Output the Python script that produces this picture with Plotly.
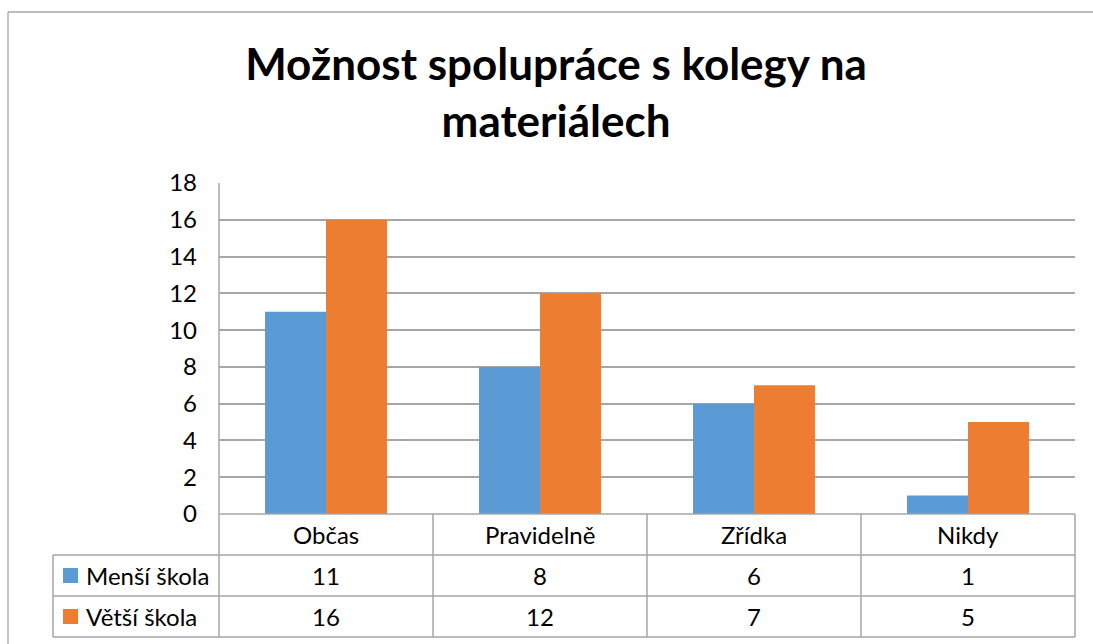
import plotly.graph_objects as go

categories = ["Občas", "Pravidelně", "Zřídka", "Nikdy"]
series_names = ["Menší škola", "Větší škola"]
mensi_skola = [11, 8, 6, 1]
vetsi_skola = [16, 12, 7, 5]
y_ticks = [0, 2, 4, 6, 8, 10, 12, 14, 16, 18]
title_text = "Možnost spolupráce s kolegy na<br>materiálech"

W, H = 1093, 644
FONT = "Lato, 'Open Sans', sans-serif"
GRID = "#a6a6a6"
colors = ["#5B9BD5", "#ED7D31"]
series = [mensi_skola, vetsi_skola]
TXT = 24

def px(x):
    return x / W

def py(y):
    return 1 - y / H

# layout geometry (pixels)
PL, PR, PT, PB = 219, 1075, 183, 514
TL = 53
row_lines = [555, 596, 637]
row_centers = [575.5, 616.5]
col_lines = [433, 647, 861, 1075]

fig = go.Figure()
for name, vals, c in zip(series_names, series, colors):
    fig.add_trace(go.Bar(x=categories, y=vals, name=name, marker=dict(color=c, line=dict(width=0)),
                         hoverinfo="skip"))

shapes = []
line = dict(color=GRID, width=1.5)
# outer chart border (top and left edges visible only)
shapes.append(dict(type="line", xref="paper", yref="paper", x0=px(8), x1=1.0, y0=py(12), y1=py(12),
                   line=dict(color=GRID, width=1.3)))
shapes.append(dict(type="line", xref="paper", yref="paper", x0=px(8), x1=px(8), y0=0, y1=py(12),
                   line=dict(color=GRID, width=1.3)))
shapes.append(dict(type="line", xref="paper", yref="paper", x0=px(PL), x1=px(PL), y0=py(PT), y1=py(row_lines[-1]), line=line))
shapes.append(dict(type="line", xref="paper", yref="paper", x0=px(PL), x1=px(PR), y0=py(PB), y1=py(PB), line=line))
for r in row_lines:
    shapes.append(dict(type="line", xref="paper", yref="paper", x0=px(TL), x1=px(PR), y0=py(r), y1=py(r), line=line))
shapes.append(dict(type="line", xref="paper", yref="paper", x0=px(TL), x1=px(TL), y0=py(row_lines[0]), y1=py(row_lines[-1]), line=line))
for cx in col_lines:
    shapes.append(dict(type="line", xref="paper", yref="paper", x0=px(cx), x1=px(cx), y0=py(PB), y1=py(row_lines[-1]), line=line))

annotations = []
for i, (name, vals, c) in enumerate(zip(series_names, series, colors)):
    yc = row_centers[i]
    shapes.append(dict(type="rect", xref="paper", yref="paper", x0=px(63), x1=px(78), y0=py(yc + 7.5), y1=py(yc - 7.5),
                       fillcolor=c, line=dict(width=0)))
    annotations.append(dict(x=px(84), y=py(yc), xref="paper", yref="paper", text=name, showarrow=False,
                            xanchor="left", yanchor="middle", font=dict(size=TXT, color="black", family=FONT)))
    for cat, v in zip(categories, vals):
        annotations.append(dict(x=cat, y=py(yc), xref="x", yref="paper", text=str(v), showarrow=False,
                                xanchor="center", yanchor="middle", font=dict(size=TXT, color="black", family=FONT)))
for cat in categories:
    annotations.append(dict(x=cat, y=py(534.5), xref="x", yref="paper", text=cat, showarrow=False,
                            xanchor="center", yanchor="middle", font=dict(size=TXT, color="black", family=FONT)))

fig.update_layout(
    width=W, height=H, autosize=False,
    margin=dict(l=0, r=0, t=0, b=0, autoexpand=False),
    paper_bgcolor="white", plot_bgcolor="white",
    showlegend=False,
    barmode="group", bargap=0.43, bargroupgap=0,
    title=dict(text=title_text, x=px(556), y=py(80), xanchor="center", yanchor="middle",
               font=dict(size=44, color="black", family=FONT, weight="bold")),
    xaxis=dict(domain=[px(PL), px(PR)], type="category", range=[-0.5, 3.5], showgrid=False,
               showline=False, zeroline=False, showticklabels=False, ticks="", automargin=False),
    yaxis=dict(domain=[py(PB), py(PT)], range=[0, 18], tickvals=y_ticks, showgrid=True, gridcolor=GRID,
               gridwidth=1.5, zeroline=False, showline=False, ticks="", ticklabelstandoff=21, automargin=False,
               tickfont=dict(size=TXT, color="black", family=FONT)),
    shapes=shapes,
    annotations=annotations,
)

fig.write_html("out.html", config={"displayModeBar": False},
               post_script="document.body.style.margin='0px';")
